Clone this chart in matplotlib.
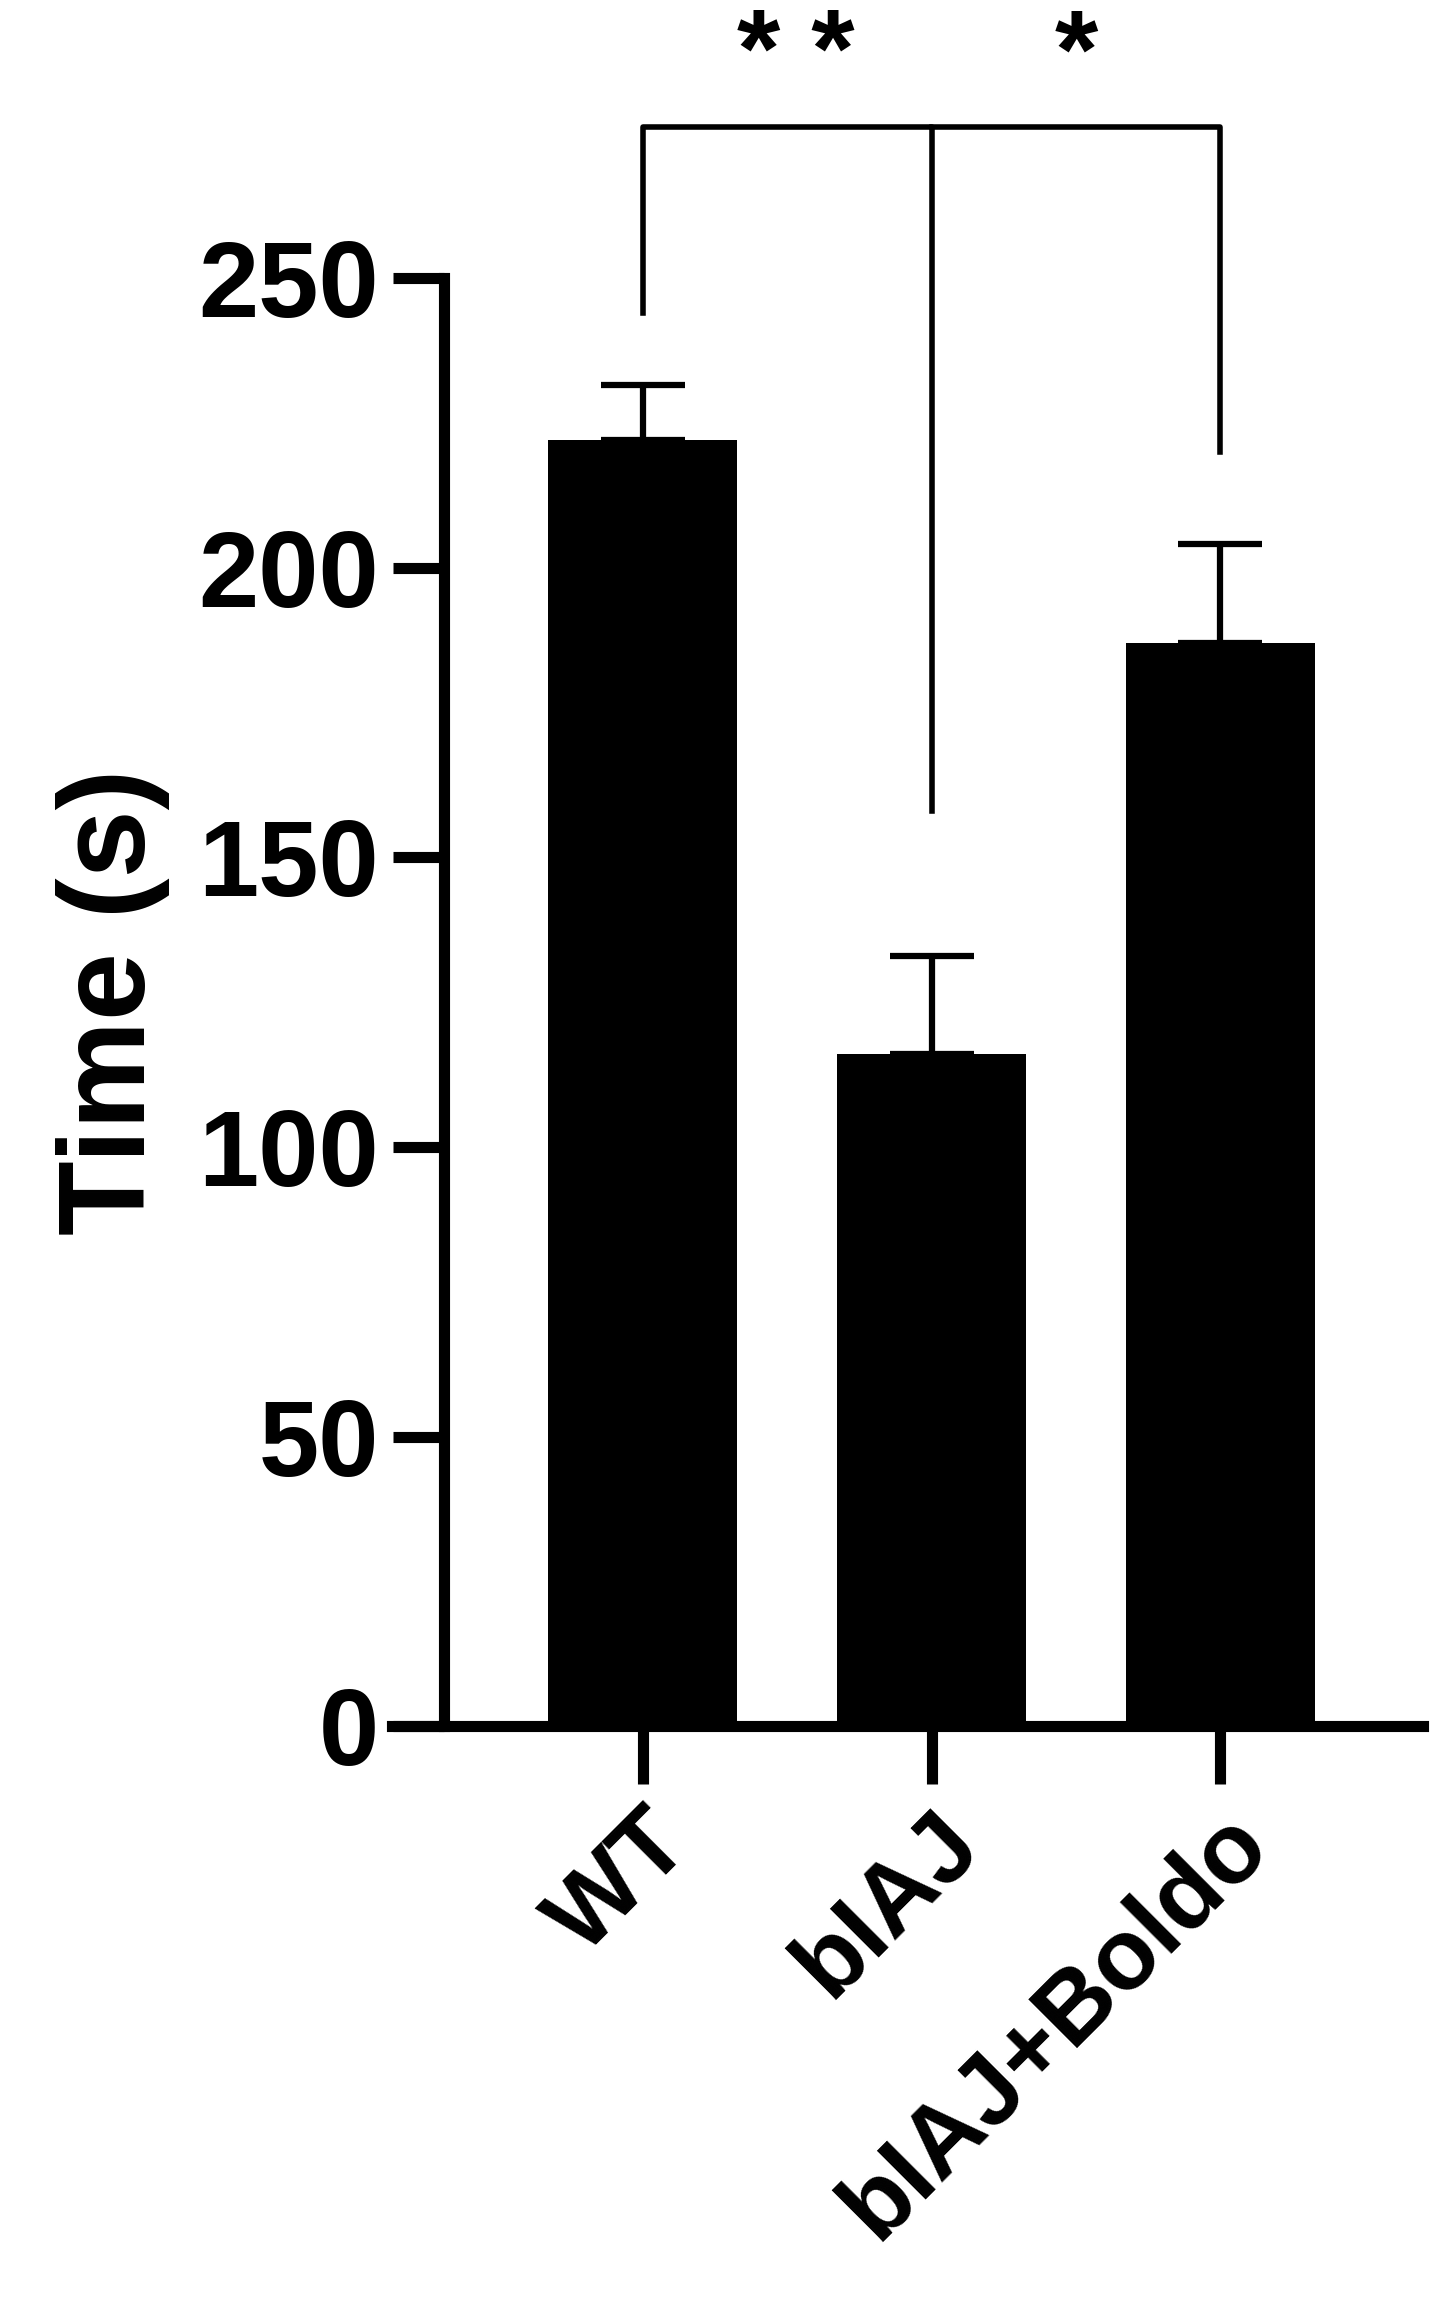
import matplotlib.pyplot as plt

plt.rcParams['font.family'] = ['Liberation Sans', 'DejaVu Sans']
plt.rcParams['font.weight'] = 'bold'

groups = ["WT", "bIAJ", "bIAJ+Boldo"]
means = [222, 116, 187]
sems = [9.5, 17, 17]

fig = plt.figure(figsize=(14.37, 23.17), dpi=100)
ax = fig.add_axes([0.273, 0.255, 0.717, 0.625])

x = list(range(len(groups)))
ax.bar(x, means, width=0.656, color="black", zorder=2)
ax.errorbar(x, means, yerr=[[0, 0, 0], sems], fmt="none", ecolor="black",
            elinewidth=4.5, capsize=30, capthick=4.5, zorder=1)

ax.set_xlim(-0.867, 2.70)
ax.set_ylim(0, 250)
ax.spines["left"].set_position(("data", -0.687))
ax.spines["top"].set_visible(False)
ax.spines["right"].set_visible(False)
for s in ["left", "bottom"]:
    ax.spines[s].set_linewidth(8)
ax.spines["left"].set_bounds(0, 250)

ax.set_yticks([0, 50, 100, 150, 200, 250])
ax.tick_params(axis="y", length=37, width=8, labelsize=78, pad=10)
ax.tick_params(axis="x", length=42, width=8, labelsize=72, pad=8)
ax.set_xticks(x)
ax.set_xticklabels(groups, rotation=45, ha="right", rotation_mode="anchor", fontweight="bold")
for lab in ax.get_yticklabels():
    lab.set_fontweight("bold")
ax.set_ylabel("Time (s)", fontsize=88, fontweight="bold", labelpad=20)

# significance brackets
lw = 4
yb = 276
ax.plot([0, 0, 1, 1], [244, yb, yb, 158], color="black", lw=lw, clip_on=False)
ax.plot([1, 2, 2], [yb, yb, 220], color="black", lw=lw, clip_on=False)
ax.text(0.53, 279, "* *", ha="center", va="bottom", fontsize=80, fontweight="bold")
ax.text(1.5, 279, "*", ha="center", va="bottom", fontsize=80, fontweight="bold")

fig.savefig("out.png", dpi=100)
